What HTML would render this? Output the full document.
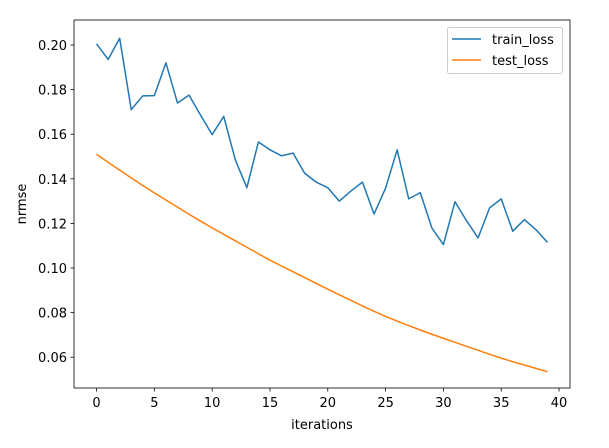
<!DOCTYPE html>
<html><head><meta charset="utf-8"><style>
body{margin:0;background:#fff}
text{font-family:"DejaVu Sans","Liberation Sans",sans-serif;font-size:13px;fill:#000}
</style></head><body>
<svg id="chart" width="609" height="443" xmlns="http://www.w3.org/2000/svg">
<rect width="609" height="443" fill="#fff"/>
<g id="plot"></g>
</svg>
<script>
const iterations = Array.from({length:40},(_, i)=>i);
const trainLoss = [0.2005,0.1935,0.203,0.171,0.1772,0.1773,0.192,0.174,0.1775,0.1685,0.1598,0.168,0.1485,0.136,0.1565,0.153,0.1503,0.1515,0.1425,0.1385,0.136,0.130,0.1345,0.1385,0.1242,0.1358,0.153,0.131,0.1338,0.118,0.1105,0.1297,0.1212,0.1135,0.127,0.131,0.1165,0.1217,0.1172,0.1115];
const testLoss = [0.1510,0.1474,0.1439,0.1404,0.1370,0.1337,0.1305,0.1273,0.1241,0.1210,0.1180,0.1151,0.1122,0.1093,0.1064,0.1035,0.1009,0.0983,0.0957,0.0931,0.0905,0.0880,0.0855,0.0830,0.0806,0.0783,0.0762,0.0742,0.0722,0.0703,0.0685,0.0667,0.0649,0.0631,0.0613,0.0596,0.0580,0.0565,0.0550,0.0535];
const xTicks = [0,5,10,15,20,25,30,35,40];
const yTicks = [0.06,0.08,0.10,0.12,0.14,0.16,0.18,0.20];
</script>
<script>
const L=74,R=570,T=20,B=388;
const xmin=-1.95,xmax=40.95,ymin=0.0462,ymax=0.2112;
const X=v=>L+(v-xmin)/(xmax-xmin)*(R-L);
const Y=v=>B-(v-ymin)/(ymax-ymin)*(B-T);
const g=document.getElementById('plot');
const NS='http://www.w3.org/2000/svg';
function mk(tag,attrs,parent){const e=document.createElementNS(NS,tag);for(const k in attrs)e.setAttribute(k,attrs[k]);(parent||g).appendChild(e);return e;}
xTicks.forEach(t=>{
  const l=mk('line',{x1:X(t),x2:X(t),y1:B,y2:B+3.5,stroke:'#000','stroke-width':0.8});
  
  
  const tx=mk('text',{x:X(t),y:B+19,'text-anchor':'middle'});tx.textContent=t;
  
  
});
yTicks.forEach(t=>{
  const l=mk('line',{x1:L-3.5,x2:L,y1:Y(t),y2:Y(t),stroke:'#000','stroke-width':0.8});
  
  
  const tx=mk('text',{x:L-7,y:Y(t)+5,'text-anchor':'end'});tx.textContent=t.toFixed(2);
  
  
});
function line(vals,color,name){
  const p=mk('polyline',{points:vals.map((v,i)=>X(iterations[i])+','+Y(v)).join(' '),fill:'none',stroke:color,'stroke-width':1.5,'stroke-linejoin':'round'});
  
  
}
line(trainLoss,'#1f77b4','train-loss-line');
line(testLoss,'#ff7f0e','test-loss-line');
const fr=mk('rect',{x:L,y:T,width:R-L,height:B-T,fill:'none',stroke:'#000','stroke-width':0.8});


const xl=mk('text',{x:(L+R)/2,y:429,'text-anchor':'middle'});xl.textContent='iterations';


const yl=mk('text',{x:26,y:(T+B)/2,'text-anchor':'middle',transform:`rotate(-90 26 ${(T+B)/2})`});yl.textContent='nrmse';


const lg=mk('g',{});


mk('rect',{x:447.5,y:27.5,width:115,height:46,rx:2,fill:'#fff','fill-opacity':0.8,stroke:'#ccc'},lg);
[['train_loss','#1f77b4',39],['test_loss','#ff7f0e',60]].forEach(([n,c,y])=>{
  const e=mk('g',{},lg);
  
  
  mk('line',{x1:452,x2:481,y1:y,y2:y,stroke:c,'stroke-width':1.5},e);
  const t=mk('text',{x:492,y:y+5},e);t.textContent=n;
});
</script>
</body></html>
